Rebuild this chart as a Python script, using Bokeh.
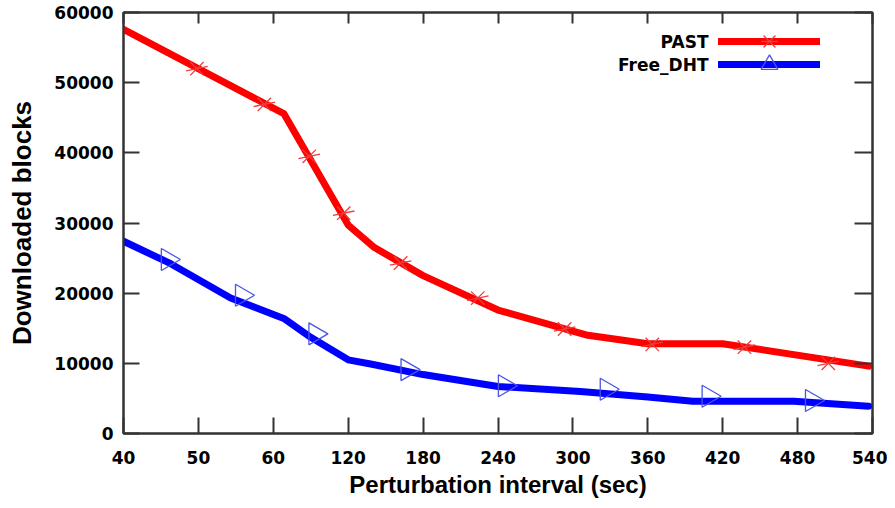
import math
from bokeh.plotting import figure
from bokeh.models import Range1d, FixedTicker, LinearAxis, Legend, LegendItem, Label
from bokeh.embed import file_html
from bokeh.resources import INLINE

# ---------------- data ----------------
interval_labels = ["40", "50", "60", "120", "180", "240", "300", "360", "420", "480", "540"]
block_ticks = [0, 10000, 20000, 30000, 40000, 50000, 60000]

# positions along the (equally spaced) interval axis, in tick-index units
past_line_pos = [0, 2.14, 3.0, 3.35, 4.0, 5.0, 6.2, 7.0, 8.0, 9.95]
past_line_blocks = [57600, 45600, 29700, 26500, 22500, 17600, 14000, 12800, 12800, 9600]
past_mark_pos = [0.98, 1.88, 2.48, 2.94, 3.70, 4.73, 5.89, 7.06, 8.29, 9.41]
past_mark_blocks = [52000, 46900, 39500, 31400, 24300, 19300, 14900, 12700, 12300, 10000]

dht_line_pos = [0, 0.63, 1.43, 2.14, 2.5, 3.0, 3.3, 4.0, 5.0, 6.1, 7.0, 7.6, 8.95, 9.95]
dht_line_blocks = [27400, 24200, 19300, 16400, 13700, 10500, 9900, 8400, 6700, 6000, 5200, 4600, 4600, 3900]
dht_mark_pos = [0.59, 1.58, 2.56, 3.79, 5.09, 6.45, 7.81, 9.19]
dht_mark_blocks = [24800, 19700, 14200, 9100, 6800, 6300, 5300, 4700]

series_names = ["PAST", "Free_DHT"]

TICK_FONT = "DejaVu Sans"
LABEL_FONT = "Liberation Sans"

# ---------------- figure ----------------
p = figure(frame_width=749, frame_height=421,
           x_range=Range1d(0, len(interval_labels) - 1), y_range=Range1d(0, 60000),
           output_backend="svg", toolbar_location=None,
           min_border_left=123, min_border_right=15, min_border_top=12, min_border_bottom=70)
p.xgrid.visible = False
p.ygrid.visible = False
p.outline_line_color = "#333333"
p.outline_line_width = 2
p.background_fill_color = "white"
p.border_fill_color = "white"

x_ticker = FixedTicker(ticks=list(range(len(interval_labels))))
y_ticker = FixedTicker(ticks=block_ticks)
x_over = {i: lab for i, lab in enumerate(interval_labels)}


def style_axis(ax, tick_in, show_labels=True, standoff=10):
    ax.axis_line_color = "#333333"
    ax.axis_line_width = 2
    ax.major_tick_line_color = "#333333"
    ax.major_tick_line_width = 2
    ax.major_tick_in = tick_in
    ax.major_tick_out = 0
    ax.minor_tick_line_color = None
    if show_labels:
        ax.major_label_text_font = TICK_FONT
        ax.major_label_text_font_style = "bold"
        ax.major_label_text_font_size = "17px"
        ax.major_label_text_color = "black"
        ax.major_label_standoff = standoff
    else:
        ax.major_label_text_font_size = "1px"
        ax.major_label_text_color = None
        ax.major_label_standoff = 0


xa = p.xaxis[0]
xa.ticker = x_ticker
xa.major_label_overrides = x_over
style_axis(xa, 16, True, 17)
xa.axis_label = "Perturbation interval (sec)"
xa.axis_label_text_font = LABEL_FONT
xa.axis_label_text_font_style = "bold"
xa.axis_label_text_font_size = "24px"
xa.axis_label_text_color = "black"
xa.axis_label_standoff = 4

ya = p.yaxis[0]
ya.ticker = y_ticker
style_axis(ya, 16, True, 10)
ya.axis_label = "Downloaded blocks"
ya.axis_label_text_font = LABEL_FONT
ya.axis_label_text_font_style = "bold"
ya.axis_label_text_font_size = "26px"
ya.axis_label_text_color = "black"
ya.axis_label_standoff = 14

top_ax = LinearAxis(ticker=x_ticker)
style_axis(top_ax, 11, False)
p.add_layout(top_ax, "above")
right_ax = LinearAxis(ticker=y_ticker)
style_axis(right_ax, 18, False)
p.add_layout(right_ax, "right")

# ---------------- series ----------------
r_line = p.line(past_line_pos, past_line_blocks, line_color="#ff0000", line_width=7,
                line_join="round", line_cap="round")
b_line = p.line(dht_line_pos, dht_line_blocks, line_color="#0000ff", line_width=7,
                line_join="round", line_cap="round")
r_x = p.scatter(past_mark_pos, past_mark_blocks, marker="x", size=19,
                line_color="#f03c3c", line_width=1.3)
r_d = p.scatter(past_mark_pos, past_mark_blocks, marker="dash", size=22, angle=0.2,
                line_color="#f03c3c", line_width=1.3)
b_m = p.scatter(dht_mark_pos, dht_mark_blocks, marker="triangle", size=22, angle=-math.pi / 2,
                fill_color=None, line_color="#4a55e6", line_width=1.3)

# one legend box per series so that the rows sit close together with large markers
legend_rows = [([r_line, r_x, r_d], 371), ([b_line, b_m], 348)]
for rends, ybot in legend_rows:
    lg = Legend(items=[LegendItem(label=" ", renderers=rends)],
                location=(595, ybot), glyph_width=102, glyph_height=42, spacing=0,
                padding=0, margin=0, label_standoff=0, label_width=0,
                border_line_color=None, background_fill_alpha=0)
    p.add_layout(lg)

for text, yy in zip(series_names, [392, 369]):
    p.add_layout(Label(x=585, y=yy, x_units="screen", y_units="screen", text=text,
                       text_align="right", text_baseline="middle", text_font=TICK_FONT,
                       text_font_style="bold", text_font_size="17px", text_color="black"))

open("out.html", "w").write(file_html(p, INLINE))
